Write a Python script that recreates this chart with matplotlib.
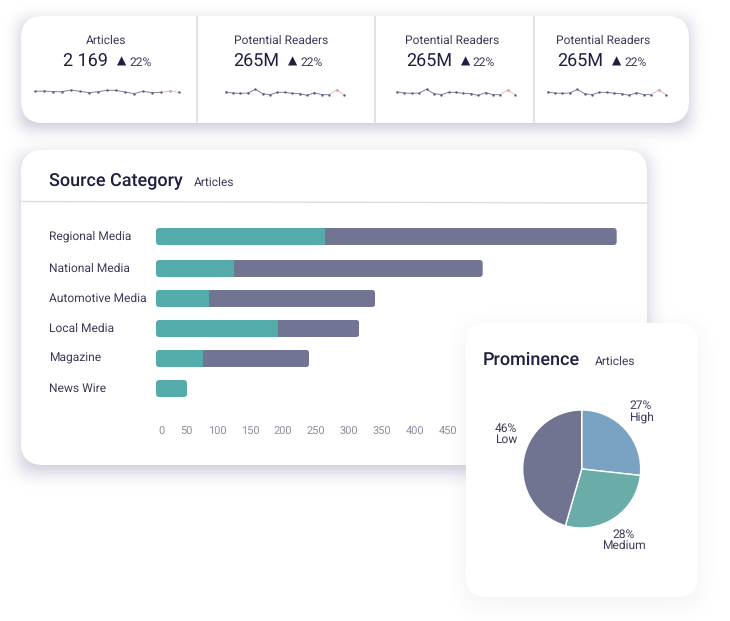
import math
import matplotlib
matplotlib.use('Agg')
import numpy as np
from matplotlib import pyplot as plt
from matplotlib.patches import FancyBboxPatch
from matplotlib.transforms import ScaledTranslation

plt.rcParams['font.family'] = ['Roboto', 'DejaVu Sans']
plt.rcParams['text.hinting'] = 'no_hinting'
plt.rcParams['text.hinting_factor'] = 1

W, H = 730, 621
DARK = '#1e1f3f'
TEXT = '#3a3b58'
TEAL = '#53aca9'
PURPLE = '#717493'

# data
kpi_titles = ['Articles', 'Potential Readers', 'Potential Readers', 'Potential Readers']
kpi_values = ['2 169', '265M', '265M', '265M']
kpi_delta = ['22%', '22%', '22%', '22%']
spark_articles = [16, 17, 15, 15, 20, 16, 12, 15, 19, 19, 14, 9, 16, 12, 13, 17, 13]
spark_readers = [14, 11, 10, 11, 22, 9, 6, 13, 13, 10, 9, 4, 12, 6, 6, 20, 6]

categories = ['Regional Media', 'National Media', 'Automotive Media', 'Local Media', 'Magazine', 'News Wire']
teal_vals = [256, 118, 80, 185, 71, 47]
purple_vals = [442, 377, 252, 123, 161, 0]
tick_labels = ['0', '50', '100', '150', '200', '250', '300', '350', '400', '450']

pie_labels = ['High', 'Medium', 'Low']
pie_vals = [27, 28, 46]
pie_colors = ['#7aa3c3', '#69aca8', '#717491']


def px_axes(x0, y0, x1, y1, z):
    # axes placed by pixel box, y counted from the top
    return fig.add_axes([x0 / W, 1 - y1 / H, (x1 - x0) / W, (y1 - y0) / H], zorder=z)


def soft_edge(n, a, b, sigma):
    # box blurred by a gaussian, one direction
    erf = np.vectorize(math.erf)
    t = np.arange(n) + 0.5
    return 0.5 * (erf((t - a) / (sigma * 2 ** 0.5)) - erf((t - b) / (sigma * 2 ** 0.5)))


def card(ax, x0, y0, x1, y1, r, dy, sigma, alpha):
    img = np.zeros((H, W, 4))
    img[..., :3] = np.array([60, 60, 120]) / 255
    img[..., 3] = alpha * np.outer(soft_edge(H, y0 + dy, y1 + dy, sigma), soft_edge(W, x0, x1, sigma))
    ax.imshow(img, extent=(0, W, H, 0), aspect='auto', interpolation='nearest')
    ax.add_patch(FancyBboxPatch((x0, y0), x1 - x0, y1 - y0, boxstyle=f'round,pad=0,rounding_size={r}',
                                fc='white', ec='none'))
    ax.set_xlim(0, W)
    ax.set_ylim(H, 0)


fig = plt.figure(figsize=(W / 100, H / 100), dpi=100, facecolor='white')

# back layer: kpi card and source category card
bg = fig.add_axes([0, 0, 1, 1], zorder=0)
bg.axis('off')
card(bg, 21, 16, 689, 123, 22, 5, 8, 0.3)
card(bg, 21, 150, 647, 465, 22, 6, 9, 0.3)

for x in [197, 375, 534]:
    bg.plot([x, x], [16, 123], color='#dedfe3', lw=1.3, solid_capstyle='butt')
bg.plot([21, 647], [201.5, 203], color='#dcdce0', lw=1)

# kpi texts
title_x = [106, 281, 452, 603]
value_x = [85, 256.5, 429.5, 580.5]
tri_x = [122, 293, 466, 617]
delta_x = [129.5, 300.5, 472.5, 624.5]
for i in range(4):
    bg.text(title_x[i], 41, kpi_titles[i], ha='center', va='center', fontsize=8.7, color=TEXT)
    bg.text(value_x[i], 62, kpi_values[i], ha='center', va='center', fontsize=13.2, color=DARK)
    bg.text(tri_x[i], 61.5, '▲', ha='center', va='center', fontsize=8.5, color=DARK, family='DejaVu Sans')
    bg.text(delta_x[i], 63, kpi_delta[i], ha='left', va='center', fontsize=8.7, color=TEXT)

bg.text(49, 181, 'Source Category', ha='left', va='center', fontsize=13.1, color=DARK, fontweight='medium')
bg.text(194, 183, 'Articles', ha='left', va='center', fontsize=8.7, color=TEXT)

# sparklines
spark_boxes = [(35, 179), (225.7, 344), (397, 515), (547.7, 666)]
for i, (x0, x1) in enumerate(spark_boxes):
    sp = px_axes(x0 - 3, 80, x1 + 3, 104, 1)
    vals = spark_articles if i == 0 else spark_readers
    xs = list(range(len(vals)))
    sp.plot(xs[:15], vals[:15], color='#7d8099', lw=0.7)
    sp.plot(xs[14:], vals[14:], color='#e8bcc0', lw=0.7)
    sp.plot(xs, vals, ls='none', marker='o', ms=1.7, color='#55577a', mew=0)
    sp.plot(xs[15], vals[15], ls='none', marker='o', ms=1.7, color='#e8bcc0', mew=0)
    step = (x1 - x0) / 16
    sp.set_xlim(-3 / step, 16 + 3 / step)
    sp.set_ylim(-22, 50)
    sp.axis('off')

# stacked bars, 0.66 px per article, first bar starts at x=156
ax = px_axes(156, 215, 640, 420, 1)
ax.patch.set_alpha(0)
ax.set_xlim(0, (640 - 156) / 0.66)
ax.set_ylim(420, 215)
rows = [236.5, 268.5, 298.5, 328.5, 358.5, 388.5]
bar_h = 17
for y, t, p in zip(rows, teal_vals, purple_vals):
    total = t + p
    clip = FancyBboxPatch((0, y - bar_h / 2), total, bar_h, boxstyle='round,pad=0,rounding_size=5',
                          mutation_aspect=0.66, transform=ax.transData, fc='none', ec='none')
    ax.add_patch(clip)
    for b in ax.barh(y, t, height=bar_h, color=TEAL):
        b.set_clip_path(clip)
    if p:
        for b in ax.barh(y, p, left=t, height=bar_h, color=PURPLE):
            b.set_clip_path(clip)

label_px = [161, 186, 217, 250, 283, 316, 349, 382, 415, 448]
ax.set_xticks([(v - 156) / 0.66 for v in label_px], tick_labels)
ax.set_yticks(rows, categories)
ax.tick_params(axis='x', length=0, pad=4.5, labelsize=7.6, labelcolor='#8b8d9e')
ax.tick_params(axis='y', length=0, pad=(156 - 49) * 0.72, labelsize=8.7, labelcolor=TEXT)
nudge = ScaledTranslation(0, 1.0 / 100, fig.dpi_scale_trans)
for lab in ax.get_yticklabels():
    lab.set_ha('left')
    lab.set_transform(lab.get_transform() + nudge)
for s in ax.spines.values():
    s.set_visible(False)

# front card
top = fig.add_axes([0, 0, 1, 1], zorder=2)
top.patch.set_alpha(0)
top.axis('off')
card(top, 466, 323, 698, 597, 20, 6, 12, 0.07)
top.text(483, 359.5, 'Prominence', ha='left', va='center', fontsize=13.2, color=DARK, fontweight='medium')
top.text(595, 362, 'Articles', ha='left', va='center', fontsize=8.7, color=TEXT)

label_pos = [(641, 411.5, 'center'), (624, 540, 'center'), (517, 434.5, 'right')]
for lab, v, (x, y, ha) in zip(pie_labels, pie_vals, label_pos):
    top.text(x, y, f'{v}%\n{lab}', ha=ha, va='center', fontsize=8.9, color=TEXT, linespacing=0.95, multialignment='center')

pie_ax = px_axes(522.7, 410, 640.7, 528, 3)
pie_ax.pie(pie_vals, colors=pie_colors, startangle=90, counterclock=False,
           wedgeprops={'edgecolor': 'white', 'linewidth': 1})
pie_ax.set_xlim(-1, 1)
pie_ax.set_ylim(-1, 1)

fig.savefig('out.png', dpi=100)
